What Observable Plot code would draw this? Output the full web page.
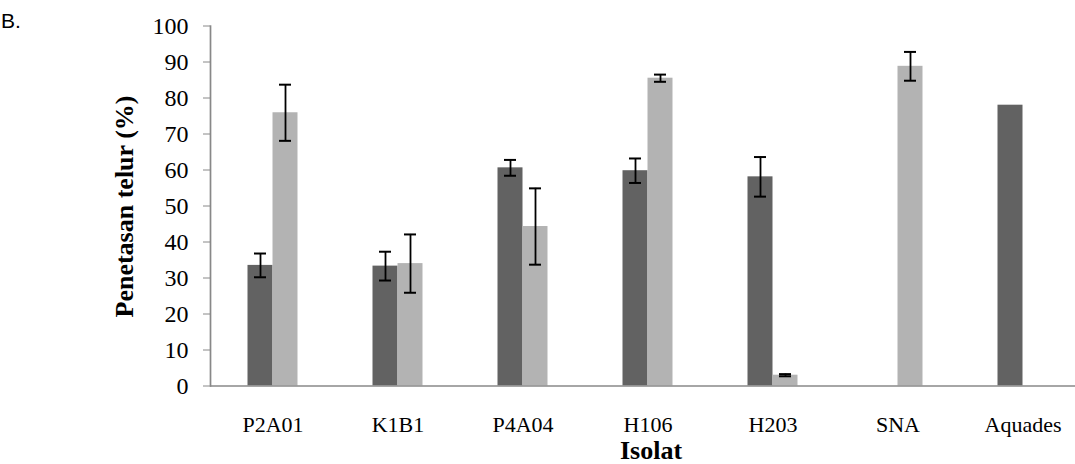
<!DOCTYPE html>
<html>
<head>
<meta charset="utf-8">
<script src="https://cdn.jsdelivr.net/npm/d3@7"></script>
<script src="https://cdn.jsdelivr.net/npm/@observablehq/plot@0.6"></script>
<style>
  html, body { margin: 0; padding: 0; background: #fff; overflow: hidden; }
  #chart svg { display: block; overflow: hidden; }
</style>
</head>
<body>
<div id="chart"></div>
<script>
const categories = ["P2A01", "K1B1", "P4A04", "H106", "H203", "SNA", "Aquades"];
const seriesNames = ["Seri 1", "Seri 2"];
const valuesDark = [33.5, 33.3, 60.6, 59.8, 58.1, null, 78.0];
const errorsDark = [3.3, 4.0, 2.2, 3.4, 5.5, null, null];
const valuesLight = [75.9, 34.0, 44.3, 85.5, 3.0, 88.8, null];
const errorsLight = [7.8, 8.1, 10.6, 1.0, 0.3, 4.0, null];
const yTicks = [0, 10, 20, 30, 40, 50, 60, 70, 80, 90, 100];

const rows = [];
categories.forEach((c, i) => {
  if (valuesDark[i] != null) rows.push({cat: c, series: seriesNames[0], value: valuesDark[i], err: errorsDark[i]});
  if (valuesLight[i] != null) rows.push({cat: c, series: seriesNames[1], value: valuesLight[i], err: errorsLight[i]});
});
const dark = rows.filter(d => d.series === seriesNames[0]);
const light = rows.filter(d => d.series === seriesNames[1]);
const darkErr = dark.filter(d => d.err != null);
const lightErr = light.filter(d => d.err != null);

const SERIF = "Liberation Serif";
const W = 1075, H = 464;
const plot = Plot.plot({
  width: W,
  height: H,
  marginLeft: 210,
  marginRight: -10,
  marginTop: 25.5,
  marginBottom: 78.5,
  x: {domain: categories, padding: 0, label: null},
  y: {domain: [0, 100], label: null},
  marks: [
    Plot.barY(dark, {x: "cat", y: "value", fill: "#626262", insetLeft: 37.5, insetRight: 62.5}),
    Plot.barY(light, {x: "cat", y: "value", fill: "#b3b3b3", insetLeft: 62.5, insetRight: 37.5}),
    Plot.ruleX(darkErr, {x: "cat", dx: -12.5, y1: d => d.value - d.err, y2: d => d.value + d.err, stroke: "#000", strokeWidth: 1.8}),
    Plot.ruleX(lightErr, {x: "cat", dx: 12.5, y1: d => d.value - d.err, y2: d => d.value + d.err, stroke: "#000", strokeWidth: 1.8}),
    Plot.tickY(darkErr, {x: "cat", y: d => d.value + d.err, insetLeft: 44, insetRight: 69, stroke: "#000", strokeWidth: 2}),
    Plot.tickY(darkErr, {x: "cat", y: d => d.value - d.err, insetLeft: 44, insetRight: 69, stroke: "#000", strokeWidth: 2}),
    Plot.tickY(lightErr, {x: "cat", y: d => d.value + d.err, insetLeft: 69, insetRight: 44, stroke: "#000", strokeWidth: 2}),
    Plot.tickY(lightErr, {x: "cat", y: d => d.value - d.err, insetLeft: 69, insetRight: 44, stroke: "#000", strokeWidth: 2}),
    Plot.ruleY([0], {stroke: "#888", strokeWidth: 1.7}),
    Plot.frame({anchor: "left", stroke: "#888", strokeWidth: 1.7}),
    Plot.axisY({ticks: yTicks, tickSize: 7, tickPadding: 15, fontSize: 24, fontFamily: SERIF, stroke: "#888", fill: "#000", label: null}),
    Plot.axisX({tickSize: 0, tickPadding: 30, fontSize: 22, fontFamily: SERIF, fill: "#000", label: null})
  ]
});

const svg = d3.select(plot);
svg.selectAll("g[aria-label='y-axis tick label'] text")
  .style("font-size", "24px").style("font-family", SERIF);
svg.selectAll("g[aria-label='x-axis tick label'] text")
  .style("font-size", "22px").style("font-family", SERIF);

svg.append("text")
  .attr("x", 11).attr("y", 28)
  .style("font-family", "Liberation Sans")
  .style("font-size", "21px")
  .attr("fill", "#000")
  .text("B.");
svg.append("text")
  .attr("transform", "translate(133,206.5) rotate(-90)")
  .attr("text-anchor", "middle")
  .style("font-family", SERIF)
  .style("font-weight", "bold")
  .style("font-size", "26px")
  .attr("fill", "#000")
  .text("Penetasan telur (%)");
svg.append("text")
  .attr("x", 651).attr("y", 458.5)
  .attr("text-anchor", "middle")
  .style("font-family", SERIF)
  .style("font-weight", "bold")
  .style("font-size", "26px")
  .attr("fill", "#000")
  .text("Isolat");

document.getElementById("chart").appendChild(plot);
</script>
</body>
</html>
